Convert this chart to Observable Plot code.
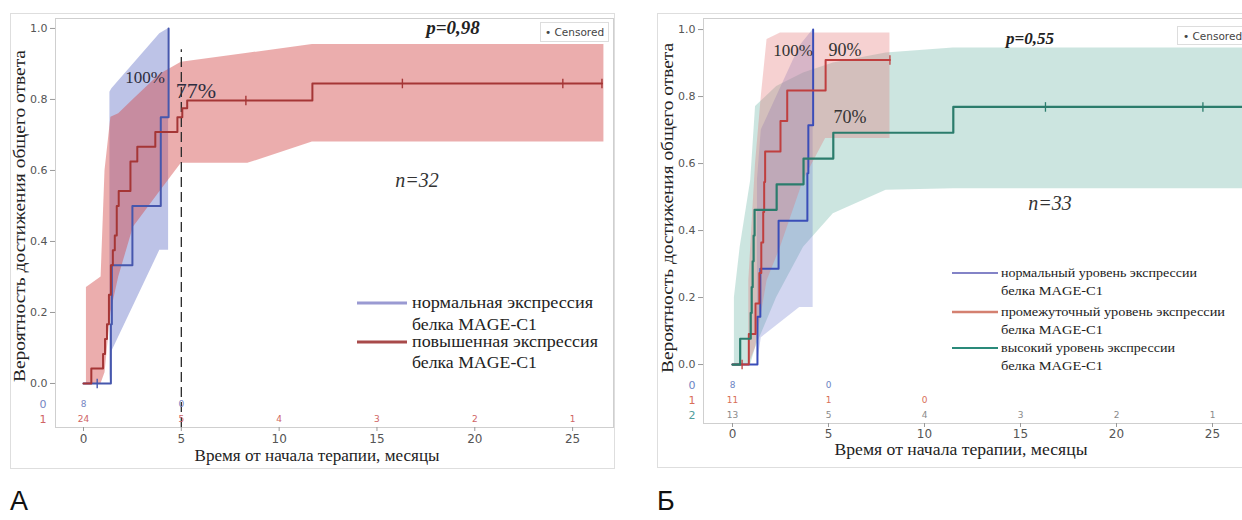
<!DOCTYPE html>
<html><head><meta charset="utf-8">
<script src="https://cdn.jsdelivr.net/npm/d3@7"></script>
<script src="https://cdn.jsdelivr.net/npm/@observablehq/plot@0.6"></script>
<style>
html,body{margin:0;padding:0;background:#fff;}
#wrap{position:relative;width:1242px;height:520px;overflow:hidden;background:#fff;}
#wrap > svg{position:absolute;top:0;}
</style></head><body><div id="wrap"></div>
<script>
// ---------- Panel A: normal (0) vs elevated (1) MAGE-C1 expression ----------
const A_blue_t = [0, 1.4, 1.45, 2.5, 3.95, 4.35];
const A_blue_s = [0, 0.167, 0.333, 0.5, 0.75, 1.0];
const A_red_t = [0, 0.4, 1.0, 1.1, 1.2, 1.3, 1.4, 1.5, 1.6, 1.7, 1.8, 2.4, 2.75, 3.67, 4.8, 5.05, 5.3, 11.7, 26.5];
const A_red_s = [0, 0.042, 0.083, 0.125, 0.167, 0.25, 0.333, 0.375, 0.417, 0.5, 0.542, 0.625, 0.667, 0.708, 0.75, 0.775, 0.797, 0.845, 0.845];
const A_red_cens_t = [8.3, 16.3, 24.5, 26.5];
const A_red_cens_s = [0.797, 0.845, 0.845, 0.845];
const A_blue_cens_t = [0.7];
const A_blue_cens_s = [0];
const A_blue_ci_t = [1.35, 1.45, 3.9, 4.35];
const A_blue_ci_lo = [0, 0.09, 0.375, 0.375];
const A_blue_ci_hi = [0.82, 0.83, 0.985, 1.0];
const A_red_ci_t = [0.15, 0.9, 1.1, 1.4, 1.8, 2.55, 3.9, 5.0, 8.4, 11.7, 26.6];
const A_red_ci_lo = [0, 0, 0.03, 0.2, 0.3, 0.44, 0.54, 0.62, 0.62, 0.68, 0.68];
const A_red_ci_hi = [0.27, 0.3, 0.6, 0.75, 0.76, 0.8, 0.87, 0.905, 0.93, 0.955, 0.955];
const A_risk_t = [0, 5, 10, 15, 20, 25];
const A_risk_rows = ["0", "1"];
const A_risk_0 = ["8", "0", "", "", "", ""];
const A_risk_1 = ["24", "5", "4", "3", "2", "1"];
const A_median_line = [5];

// ---------- Panel B: normal (0), intermediate (1), high (2) ----------
const B_blue_t = [0, 1.3, 1.45, 2.4, 3.9, 3.95, 4.2];
const B_blue_s = [0, 0.143, 0.286, 0.429, 0.571, 0.714, 1.0];
const B_red_t = [0, 0.85, 1.2, 1.4, 1.5, 1.6, 1.65, 1.7, 2.5, 2.85, 4.85, 8.2];
const B_red_s = [0, 0.091, 0.182, 0.273, 0.364, 0.455, 0.545, 0.636, 0.727, 0.818, 0.909, 0.909];
const B_green_t = [0, 0.4, 0.95, 1.0, 1.05, 1.1, 1.15, 2.3, 3.7, 5.25, 11.5, 28];
const B_green_s = [0, 0.077, 0.154, 0.231, 0.308, 0.385, 0.462, 0.538, 0.615, 0.692, 0.769, 0.769];
const B_green_cens_t = [16.3, 24.5];
const B_green_cens_s = [0.769, 0.769];
const B_red_cens_t = [0.5, 8.2];
const B_red_cens_s = [0, 0.909];
const B_blue_ci_t = [1.3, 1.5, 3.5, 4.2];
const B_blue_ci_lo = [0, 0.08, 0.17, 0.17];
const B_blue_ci_hi = [0.55, 0.7, 0.95, 1.0];
const B_red_ci_t = [0.85, 1.2, 1.5, 1.8, 2.5, 3.7, 4.85, 8.2];
const B_red_ci_lo = [0, 0.05, 0.15, 0.25, 0.35, 0.55, 0.675, 0.675];
const B_red_ci_hi = [0.25, 0.6, 0.8, 0.97, 0.99, 0.99, 0.99, 0.99];
const B_green_ci_t = [0.1, 0.4, 0.95, 1.2, 2.3, 3.7, 5.25, 8, 11.5, 28];
const B_green_ci_lo = [0, 0, 0, 0.05, 0.2, 0.35, 0.45, 0.52, 0.525, 0.525];
const B_green_ci_hi = [0.2, 0.35, 0.55, 0.77, 0.83, 0.87, 0.9, 0.93, 0.945, 0.945];
const B_risk_t = [0, 5, 10, 15, 20, 25];
const B_risk_rows = ["0", "1", "2"];
const B_risk_0 = ["8", "0", "", "", "", ""];
const B_risk_1 = ["11", "1", "0", "", "", ""];
const B_risk_2 = ["13", "5", "4", "3", "2", "1"];

const yTicks = [0, 0.2, 0.4, 0.6, 0.8, 1.0];
const xTicks = [0, 5, 10, 15, 20, 25];

// ---------- helpers ----------
const pts = (t, s) => t.map((d, i) => ({t: d, s: s[i]}));
const band = (t, lo, hi) => t.map((d, i) => ({t: d, lo: lo[i], hi: hi[i]}));
const risk = (t, n) => t.map((d, i) => ({t: d, n: n[i]})).filter(d => d.n !== "");
const tickSym = {draw(ctx, size) { const r = Math.sqrt(size) * 0.9; ctx.moveTo(0, -r); ctx.lineTo(0, r); }};

const wrap = document.getElementById("wrap");

// ---------- Plot A ----------
const A_rowV = i => -(21 + 15 * i) / 355;
const A_rowCol = ["#7585c2", "#cf6464"];
const A_riskData = [A_risk_0, A_risk_1];
const plotA = Plot.plot({
  width: 630, height: 480,
  marginLeft: 55, marginRight: 17, marginTop: 18, marginBottom: 53,
  x: {domain: [-1.431, 27.09]},
  y: {domain: [-0.124, 1.028]},
  style: {fontFamily: "DejaVu Sans, sans-serif", fontSize: "11px", background: "transparent", overflow: "visible"},
  marks: [
    Plot.frame({stroke: "#cfcfcf"}),
    Plot.areaY(band(A_blue_ci_t, A_blue_ci_lo, A_blue_ci_hi), {x: "t", y1: "lo", y2: "hi", fill: "#5a68c4", fillOpacity: 0.4}),
    Plot.areaY(band(A_red_ci_t, A_red_ci_lo, A_red_ci_hi), {x: "t", y1: "lo", y2: "hi", fill: "#d24a4a", fillOpacity: 0.45}),
    Plot.ruleX(A_median_line, {y1: -0.124, y2: 0.94, stroke: "#2a2a2a", strokeWidth: 1.3, strokeDasharray: "10,5"}),
    Plot.line(pts(A_blue_t, A_blue_s), {x: "t", y: "s", curve: "step-after", stroke: "#4657ad", strokeWidth: 2}),
    Plot.line(pts(A_red_t, A_red_s), {x: "t", y: "s", curve: "step-after", stroke: "#a53636", strokeWidth: 2}),
    Plot.dot(pts(A_red_cens_t, A_red_cens_s), {x: "t", y: "s", symbol: tickSym, r: 3, stroke: "#a53636", fill: "none", strokeWidth: 1.4}),
    Plot.dot(pts(A_blue_cens_t, A_blue_cens_s), {x: "t", y: "s", symbol: tickSym, r: 3, stroke: "#4657ad", fill: "none", strokeWidth: 1.4}),
    Plot.axisY({ticks: yTicks, tickFormat: d3.format(".1f"), tickSize: 5, tickPadding: 3, stroke: "#999", fill: "#555", label: null}),
    Plot.axisX({ticks: xTicks, tickSize: 4, tickPadding: 3, stroke: "#999", fill: "#555", fontSize: 12, label: null}),
    ...A_riskData.map((arr, i) => Plot.text(risk(A_risk_t, arr), {x: "t", y: () => A_rowV(i), text: "n", fill: A_rowCol[i], fontSize: 9})),
    ...A_risk_rows.map((lab, i) => Plot.text([lab], {frameAnchor: "left", y: () => A_rowV(i), text: d => d, dx: -9, textAnchor: "end", fill: A_rowCol[i], fontSize: 11}))
  ]
});
plotA.style.left = "0px";
wrap.appendChild(plotA);

// ---------- Plot B ----------
const B_rowV = i => -(21 + 15 * i) / 335;
const B_rowCol = ["#6c84c4", "#d86f58", "#4f9c9c"];
const B_numCol = ["#6c84c4", "#d86f58", "#8a8a8a"];
const B_riskData = [B_risk_0, B_risk_1, B_risk_2];
const plotB = Plot.plot({
  width: 640, height: 480,
  marginLeft: 73, marginRight: 0, marginTop: 18, marginBottom: 57,
  x: {domain: [-1.51, 28.02]},
  y: {domain: [-0.176, 1.033]},
  style: {fontFamily: "DejaVu Sans, sans-serif", fontSize: "11px", background: "transparent", overflow: "visible"},
  marks: [
    Plot.frame({stroke: "#cfcfcf"}),
    Plot.areaY(band(B_green_ci_t, B_green_ci_lo, B_green_ci_hi), {x: "t", y1: "lo", y2: "hi", fill: "#5fae9f", fillOpacity: 0.32}),
    Plot.areaY(band(B_blue_ci_t, B_blue_ci_lo, B_blue_ci_hi), {x: "t", y1: "lo", y2: "hi", fill: "#6a78cc", fillOpacity: 0.3}),
    Plot.areaY(band(B_red_ci_t, B_red_ci_lo, B_red_ci_hi), {x: "t", y1: "lo", y2: "hi", fill: "#e27070", fillOpacity: 0.32}),
    Plot.line(pts(B_blue_t, B_blue_s), {x: "t", y: "s", curve: "step-after", stroke: "#3a4db8", strokeWidth: 2}),
    Plot.line(pts(B_red_t, B_red_s), {x: "t", y: "s", curve: "step-after", stroke: "#bf3f3f", strokeWidth: 2}),
    Plot.line(pts(B_green_t, B_green_s), {x: "t", y: "s", curve: "step-after", stroke: "#2b7c6c", strokeWidth: 2.2}),
    Plot.dot(pts(B_green_cens_t, B_green_cens_s), {x: "t", y: "s", symbol: tickSym, r: 3, stroke: "#2b7c6c", fill: "none", strokeWidth: 1.3}),
    Plot.dot(pts(B_red_cens_t, B_red_cens_s), {x: "t", y: "s", symbol: tickSym, r: 3, stroke: "#bf3f3f", fill: "none", strokeWidth: 1.3}),
    Plot.axisY({ticks: yTicks, tickFormat: d3.format(".1f"), tickSize: 5, tickPadding: 3, stroke: "#999", fill: "#555", label: null}),
    Plot.axisX({ticks: xTicks, tickSize: 4, tickPadding: 2, stroke: "#999", fill: "#555", fontSize: 12, label: null}),
    ...B_riskData.map((arr, i) => Plot.text(risk(B_risk_t, arr), {x: "t", y: () => B_rowV(i), text: "n", fill: B_numCol[i], fontSize: 9})),
    ...B_risk_rows.map((lab, i) => Plot.text([lab], {frameAnchor: "left", y: () => B_rowV(i), text: d => d, dx: -8, textAnchor: "end", fill: B_rowCol[i], fontSize: 11}))
  ]
});
plotB.style.left = "630px";
wrap.appendChild(plotB);

// ---------- annotations, legends, titles ----------
const ns = "http://www.w3.org/2000/svg";
const ov = document.createElementNS(ns, "svg");
ov.setAttribute("width", 1242); ov.setAttribute("height", 520);
ov.style.left = "0px";
const SERIF = "Liberation Serif, Times New Roman, serif";
const SA = 'lengthAdjust="spacingAndGlyphs"';
ov.innerHTML = `
<rect x="10.5" y="13.5" width="604" height="455" fill="none" stroke="#dedede"/>
<rect x="657.5" y="13.5" width="600" height="454" fill="none" stroke="#dedede"/>
<g font-family="${SERIF}" fill="#222">
  <text transform="translate(25,216) rotate(-90)" text-anchor="middle" font-size="17.5" textLength="332" ${SA}>Вероятность достижения общего ответа</text>
  <text x="317" y="461" text-anchor="middle" font-size="17" textLength="245" ${SA}>Время от начала терапии, месяцы</text>
  <text transform="translate(673,208) rotate(-90)" text-anchor="middle" font-size="17.5" textLength="330" ${SA}>Вероятность достижения общего ответа</text>
  <text x="961" y="455" text-anchor="middle" font-size="17" textLength="253" ${SA}>Время от начала терапии, месяцы</text>
  <text x="453" y="34" text-anchor="middle" font-size="19" font-weight="bold" font-style="italic">p=0,98</text>
  <text x="1030" y="44" text-anchor="middle" font-size="17" font-weight="bold" font-style="italic">p=0,55</text>
  <text x="417" y="187" text-anchor="middle" font-size="20" font-style="italic" fill="#333">n=32</text>
  <text x="1050" y="210" text-anchor="middle" font-size="20" font-style="italic" fill="#333">n=33</text>
  <text x="145" y="83" text-anchor="middle" font-size="17" fill="#2e2e40">100%</text>
  <text x="196" y="98" text-anchor="middle" font-size="22" fill="#2e2e40">77%</text>
  <text x="793" y="56" text-anchor="middle" font-size="17" fill="#333">100%</text>
  <text x="845" y="56" text-anchor="middle" font-size="18" fill="#333">90%</text>
  <text x="850" y="123" text-anchor="middle" font-size="18" fill="#333">70%</text>
  <line x1="357" x2="407" y1="303" y2="303" stroke="#9a9ad2" stroke-width="3"/>
  <text x="412" y="308" font-size="16" textLength="181" ${SA}>нормальная экспрессия</text>
  <text x="412" y="330" font-size="16" textLength="125" ${SA}>белка MAGE-C1</text>
  <line x1="357" x2="407" y1="342" y2="342" stroke="#a84a4a" stroke-width="3"/>
  <text x="412" y="347" font-size="16" textLength="186" ${SA}>повышенная экспрессия</text>
  <text x="412" y="368" font-size="16" textLength="125" ${SA}>белка MAGE-C1</text>
  <line x1="952" x2="998" y1="273" y2="273" stroke="#5a5ab4" stroke-width="1.6"/>
  <text x="1001" y="277" font-size="13.5" textLength="196" ${SA}>нормальный уровень экспрессии</text>
  <text x="1001" y="295" font-size="13.5" textLength="102" ${SA}>белка MAGE-C1</text>
  <line x1="952" x2="998" y1="312" y2="312" stroke="#d48070" stroke-width="2.6"/>
  <text x="1001" y="316" font-size="13.5" textLength="224" ${SA}>промежуточный уровень экспрессии</text>
  <text x="1001" y="334" font-size="13.5" textLength="102" ${SA}>белка MAGE-C1</text>
  <line x1="952" x2="998" y1="348" y2="348" stroke="#2a8a7a" stroke-width="2"/>
  <text x="1001" y="352" font-size="13.5" textLength="174" ${SA}>высокий уровень экспрессии</text>
  <text x="1001" y="370" font-size="13.5" textLength="102" ${SA}>белка MAGE-C1</text>
</g>
<g font-family="DejaVu Sans, sans-serif" font-size="10.5" fill="#444">
  <rect x="540.5" y="22.5" width="68" height="19" fill="#fff" stroke="#ddd"/>
  <text x="545" y="36">• Censored</text>
  <rect x="1177.5" y="26.5" width="80" height="18" fill="#fff" stroke="#ddd"/>
  <text x="1183" y="40">• Censored</text>
</g>
<g font-family="Liberation Sans, Arial, sans-serif" font-size="27" fill="#111">
  <text x="10" y="510">А</text>
  <text x="657" y="510">Б</text>
</g>`;
wrap.appendChild(ov);
</script></body></html>
